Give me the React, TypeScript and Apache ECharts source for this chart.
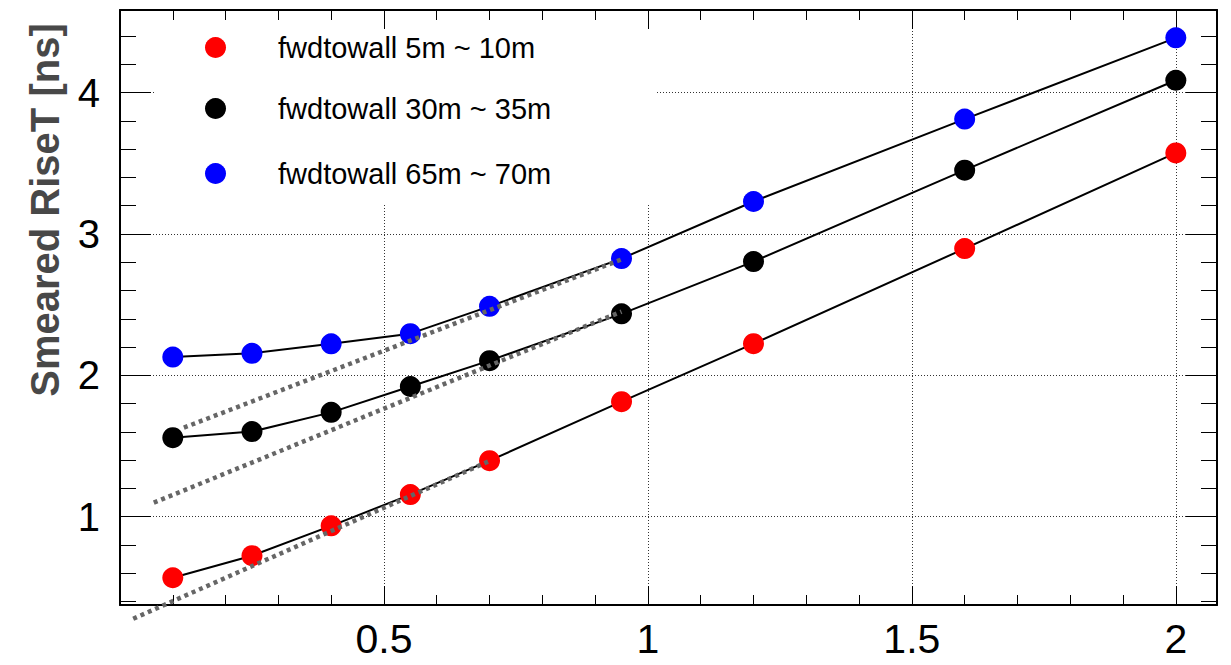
import React, { useEffect, useRef } from 'react';
import * as echarts from 'echarts';

// ---- data ----
const xValues = [0.1, 0.25, 0.4, 0.55, 0.7, 0.95, 1.2, 1.6, 2.0];
const red5to10 = [0.568, 0.724, 0.935, 1.156, 1.396, 1.814, 2.224, 2.897, 3.574];
const black30to35 = [1.559, 1.602, 1.738, 1.921, 2.104, 2.435, 2.805, 3.452, 4.088];
const blue65to70 = [2.129, 2.156, 2.223, 2.295, 2.488, 2.826, 3.23, 3.813, 4.388];
const seriesNames = ['fwdtowall 5m ~ 10m', 'fwdtowall 30m ~ 35m', 'fwdtowall 65m ~ 70m'];
const seriesColors = ['#ff0000', '#000000', '#0000ff'];

// linear fit segments (start, end)
const fitRedX = [0.025, 0.7];
const fitRedY = [0.278, 1.394];
const fitBlackX = [0.064, 0.95];
const fitBlackY = [1.099, 2.451];
const fitBlueX = [0.121, 0.95];
const fitBlueY = [1.63, 2.82];

const xTickLabels = ['0.5', '1', '1.5', '2'];
const yTickLabels = ['1', '2', '3', '4'];
const xRange = [0, 2.078];
const yRange = [0.375, 4.585];
const yTitle = 'Smeared RiseT [ns]';

const FONT = 'Liberation Sans';

export default function App() {
  const ref = useRef<HTMLDivElement>(null);

  useEffect(() => {
    if (!ref.current) return;
    const chart = echarts.init(ref.current, null, { renderer: 'svg' });

    const fmt = (labels: string[]) => (v: number) => {
      const s = String(Math.round(v * 1000) / 1000);
      return labels.includes(s) ? s : '';
    };

    const xBase = (position: 'bottom' | 'top', showLabels: boolean, showSplit: boolean) => ({
      type: 'value',
      position,
      min: xRange[0],
      max: xRange[1],
      minInterval: 0.5,
      maxInterval: 0.5,
      axisLine: { show: true, onZero: false, lineStyle: { color: '#000', width: 2 } },
      axisTick: { show: true, inside: true, length: 19, lineStyle: { color: '#000', width: 1 } },
      minorTick: { show: true, splitNumber: 5, length: 10, lineStyle: { color: '#000', width: 1 } },
      axisLabel: {
        show: showLabels,
        margin: 13,
        fontSize: 41,
        fontFamily: FONT,
        color: '#000',
        formatter: fmt(xTickLabels),
      },
      splitLine: {
        show: showSplit,
        showMinLine: false,
        showMaxLine: false,
        lineStyle: { type: [1, 2], color: '#333', width: 1 },
      },
    });

    const yBase = (position: 'left' | 'right', showLabels: boolean, showSplit: boolean) => ({
      type: 'value',
      position,
      min: yRange[0],
      max: yRange[1],
      minInterval: 1,
      maxInterval: 1,
      axisLine: { show: true, onZero: false, lineStyle: { color: '#000', width: 2 } },
      axisTick: { show: true, inside: true, length: 31, lineStyle: { color: '#000', width: 1 } },
      minorTick: { show: true, splitNumber: 5, length: 16, lineStyle: { color: '#000', width: 1 } },
      axisLabel: {
        show: showLabels,
        margin: 20,
        fontSize: 40,
        fontFamily: FONT,
        color: '#000',
        formatter: fmt(yTickLabels),
      },
      splitLine: {
        show: showSplit,
        showMinLine: false,
        showMaxLine: false,
        lineStyle: { type: [1, 2], color: '#333', width: 1 },
      },
    });

    const dataSets = [red5to10, black30to35, blue65to70];
    const dataSeries = dataSets.map((vals, i) => ({
      name: seriesNames[i],
      type: 'line',
      xAxisIndex: 0,
      yAxisIndex: 0,
      data: xValues.map((x, j) => [x, vals[j]]),
      symbol: 'circle',
      symbolSize: 21,
      showSymbol: true,
      itemStyle: { color: seriesColors[i] },
      lineStyle: { color: '#000', width: 2 },
      emphasis: { disabled: true },
      silent: true,
      z: 2,
    }));

    const fits = [
      [fitRedX, fitRedY],
      [fitBlackX, fitBlackY],
      [fitBlueX, fitBlueY],
    ];
    const fitSeries = fits.map(([xs, ys], i) => ({
      name: 'fit' + i,
      type: 'line',
      xAxisIndex: 0,
      yAxisIndex: 0,
      data: xs.map((x, j) => [x, ys[j]]),
      symbol: 'none',
      clip: false,
      lineStyle: { color: '#666', width: 4.5, type: [4, 4] },
      emphasis: { disabled: true },
      silent: true,
      z: 3,
    }));

    const legendTops = [33, 94, 159];
    const legends = seriesNames.map((name, i) => ({
      data: [name],
      left: 205,
      top: legendTops[i],
      padding: 0,
      orient: 'vertical',
      icon: 'circle',
      itemWidth: 21,
      itemHeight: 21,
      selectedMode: false,
      textStyle: {
        fontSize: 29,
        fontFamily: FONT,
        color: '#000',
        lineHeight: 21,
        padding: [0, 0, 0, 47],
      },
    }));

    chart.setOption({
      animation: false,
      backgroundColor: '#fff',
      grid: { left: 120, right: 14, top: 10, bottom: 60, containLabel: false, outerBoundsMode: 'none' },
      xAxis: [xBase('bottom', true, true), xBase('top', false, false)],
      yAxis: [yBase('left', true, true), yBase('right', false, false)],
      legend: legends,
      graphic: {
        elements: [
          {
            type: 'rect',
            z: 1,
            shape: { x: 154, y: 31, width: 501, height: 174 },
            style: { fill: '#fff' },
            silent: true,
          },
          {
            type: 'text',
            x: 45,
            y: 210,
            rotation: Math.PI / 2,
            style: {
              text: yTitle,
              fontSize: 40,
              fontWeight: 'bold',
              fontFamily: FONT,
              fill: '#484848',
              align: 'center',
              verticalAlign: 'middle',
            },
            silent: true,
          },
        ],
      },
      series: [...dataSeries, ...fitSeries],
    });

    return () => chart.dispose();
  }, []);

  return (
    <div
      ref={ref}
      style={{ position: 'absolute', left: 0, top: 0, width: 1231, height: 665, background: '#fff' }}
    />
  );
}
